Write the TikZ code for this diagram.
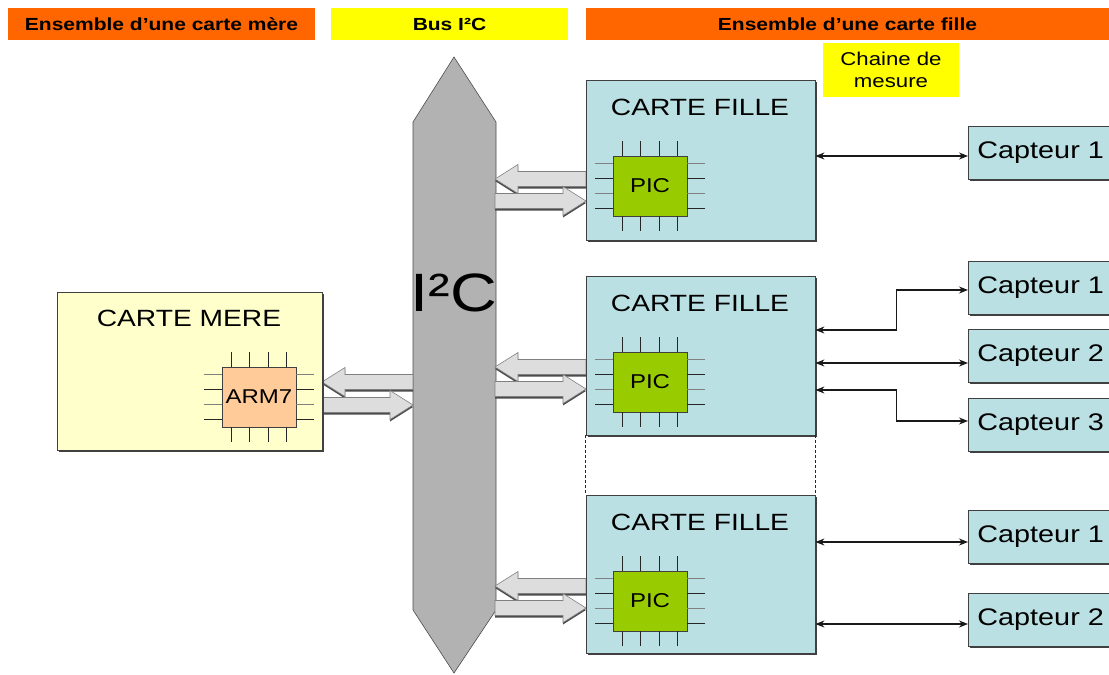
\documentclass[tikz,border=0pt]{standalone}
\usepackage{fontspec}
\setmainfont[FakeStretch=1.2]{Liberation Sans}
\usetikzlibrary{calc,arrows.meta,shadows}
\definecolor{orangeH}{HTML}{FF6600}
\definecolor{yellowH}{HTML}{FFFF00}
\definecolor{filleC}{RGB}{186,224,227}
\definecolor{mereC}{HTML}{FFFFCC}
\definecolor{armC}{HTML}{FFCC99}
\definecolor{picC}{HTML}{99CC00}
\definecolor{busC}{HTML}{B2B2B2}
\definecolor{blkC}{HTML}{DDDDDD}
\newcommand{\lblkpath}[3]{(#1,#3) -- (#1+23,#3-14.5) -- (#1+23,#3-7.5) -- (#2,#3-7.5) -- (#2,#3+7.5) -- (#1+23,#3+7.5) -- (#1+23,#3+14.5) -- cycle}
\newcommand{\rblkpath}[3]{(#2,#3) -- (#2-23,#3-14.5) -- (#2-23,#3-7.5) -- (#1,#3-7.5) -- (#1,#3+7.5) -- (#2-23,#3+7.5) -- (#2-23,#3+14.5) -- cycle}
\newcommand{\lblk}[3]{\fill[black!70,yshift=-2pt] \lblkpath{#1}{#2}{#3}; \draw[blk] \lblkpath{#1}{#2}{#3};}
\newcommand{\rblk}[3]{\fill[black!70,yshift=-2pt] \rblkpath{#1}{#2}{#3}; \draw[blk] \rblkpath{#1}{#2}{#3};}
\newcommand{\chippins}[1]{%
  \foreach \d in {10,28,47,65} {
    \draw[pin] ($(#1.north west)+(\d,0)$) -- ++(0,-15);
    \draw[pin] ($(#1.south west)+(\d,0)$) -- ++(0,15);
  }
  \foreach \d/\c in {8/black!50,23/black!85,38/black!50,53/black!85} {
    \draw[pin,draw=\c] ($(#1.north west)+(0,\d)$) -- ++(-18,0);
    \draw[pin,draw=\c] ($(#1.north east)+(0,\d)$) -- ++(18,0);
  }
}
\begin{document}
\begin{tikzpicture}[x=1pt,y=-1pt,
  hdr/.style={minimum height=32pt, inner sep=0pt, font=\fontsize{17.5}{20}\selectfont\bfseries},
  board/.style={draw=black!75, line width=0.8pt, inner sep=0pt,
    drop shadow={shadow xshift=1.5pt, shadow yshift=-1.5pt, fill=black!75, opacity=1}},
  ttl/.style={inner sep=0pt, font=\fontsize{23.5}{26}\selectfont},
  chip/.style={draw=black!75, line width=0.6pt, inner sep=0pt, minimum width=74pt, minimum height=60pt, font=\fontsize{20}{22}\selectfont},
  pin/.style={line width=1pt, draw=black!85},
  blk/.style={fill=blkC, draw=black!50, line width=0.6pt},
  capt/.style={board, fill=filleC, anchor=west, minimum height=53pt, text width=133pt, inner xsep=9pt, align=left, font=\fontsize{24}{26}\selectfont},
  biarrow/.style={{Stealth[length=9pt,width=7pt]}-{Stealth[length=9pt,width=7pt]}, line width=1.2pt, draw=black!90}
]
\useasboundingbox (0,0) rectangle (1109,675);
\clip (0,0) rectangle (1109,675);

% headers
\node[hdr, fill=orangeH, minimum width=307pt] (h1) at (161.5,24) {Ensemble d’une carte mère};
\node[hdr, fill=yellowH, minimum width=237pt] (h2) at (449.5,24) {Bus I²C};
\node[hdr, fill=orangeH, minimum width=523pt] (h3) at (847.5,24) {Ensemble d’une carte fille};
\node[fill=yellowH, minimum width=136pt, minimum height=54pt, inner sep=0pt, align=center,
  font=\fontsize{18.5}{21.5}\selectfont] (cm) at (891,70) {Chaine de\\mesure};

% bus
\draw[fill=busC, draw=black!70, line width=0.6pt] (454,57) -- (496,122) -- (496,610) -- (454,673) -- (413,610) -- (413,122) -- cycle;
\node[inner sep=0pt, font=\fontsize{54}{60}\selectfont] (i2c) at (454,293) {I²C};

% block arrows
\lblk{322}{413}{382}
\rblk{322}{413}{405}
\lblk{495}{586}{179}
\rblk{495}{586}{201}
\lblk{495}{586}{367}
\rblk{495}{586}{389}
\lblk{495}{586}{586}
\rblk{495}{586}{608}

% carte mere
\node[board, fill=mereC, minimum width=265pt, minimum height=158pt] (mere) at (189.5,371) {};
\node[ttl] (meret) at (189,318) {CARTE MERE};
\node[chip, fill=armC] (arm) at (259,397) {ARM7};
\chippins{arm}

% cartes filles
\node[board, fill=filleC, minimum width=229pt, minimum height=160pt] (f1) at (700.5,160) {};
\node[board, fill=filleC, minimum width=229pt, minimum height=159pt] (f2) at (700.5,355.5) {};
\node[board, fill=filleC, minimum width=229pt, minimum height=158pt] (f3) at (700.5,574) {};
\node[ttl] (f1t) at (700,107) {CARTE FILLE};
\node[ttl] (f2t) at (700,303) {CARTE FILLE};
\node[ttl] (f3t) at (700,522) {CARTE FILLE};
\draw[dash pattern=on 3pt off 2pt, line width=1pt, black!85] (f2.south west) -- (f3.north west);
\draw[dash pattern=on 3pt off 2pt, line width=1pt, black!85] (f2.south east) -- (f3.north east);

\node[chip, fill=picC] (p1) at (650,186) {PIC};
\node[chip, fill=picC] (p2) at (650,382) {PIC};
\node[chip, fill=picC] (p3) at (650,601) {PIC};
\chippins{p1}
\chippins{p2}
\chippins{p3}

% capteurs
\node[capt] (t1) at (968,152.5) {Capteur 1};
\node[capt] (m1) at (968,288) {Capteur 1};
\node[capt] (m2) at (968,356) {Capteur 2};
\node[capt] (m3) at (968,424.5) {Capteur 3};
\node[capt] (b1) at (968,537) {Capteur 1};
\node[capt] (b2) at (968,620) {Capteur 2};

% connectors
\draw[biarrow] ($(f1.east |- t1.west)+(0,3.5)$) -- ($(t1.west)+(0,3.5)$);
\draw[biarrow] ($(f2.east)+(0,-25.5)$) -- ++(81,0) |- ($(m1.west)+(0,2)$);
\draw[biarrow] ($(f2.east |- m2.west)+(0,7)$) -- ($(m2.west)+(0,7)$);
\draw[biarrow] ($(f2.east)+(0,34.5)$) -- ++(81,0) |- ($(m3.west)+(0,-3.5)$);
\draw[biarrow] ($(f3.east |- b1.west)+(0,5)$) -- ($(b1.west)+(0,5)$);
\draw[biarrow] ($(f3.east |- b2.west)+(0,4)$) -- ($(b2.west)+(0,4)$);
\end{tikzpicture}
\end{document}
